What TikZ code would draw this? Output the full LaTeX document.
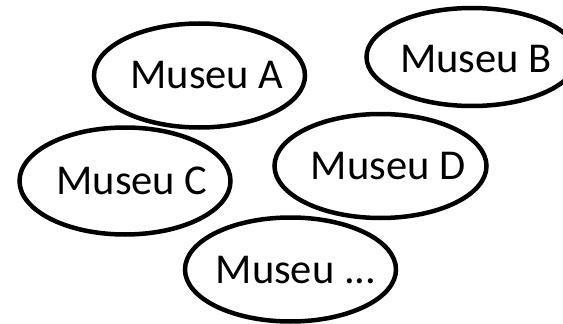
\documentclass[tikz,border=0pt]{standalone}
\usepackage{fontspec}
\setmainfont{Carlito}
\usetikzlibrary{shapes.geometric}
\begin{document}
\begin{tikzpicture}[x=1pt,y=-1pt,
  museum/.style={ellipse, draw=black, line width=4.5pt, inner sep=0pt,
    minimum width=211pt, minimum height=104pt},
  mlabel/.style={font=\fontsize{42.5pt}{50pt}\selectfont, text=black, inner sep=0pt}]
\useasboundingbox (0,0) rectangle (563,324);
\node[museum, label={[mlabel, xshift=7.5pt]center:Museu A}] (a) at (199.5,75.5) {};
\node[museum, minimum height=98pt, label={[mlabel, xshift=4pt, yshift=-2pt]center:Museu B}] (b) at (472,57) {};
\node[museum, minimum height=107pt, label={[mlabel, xshift=7pt]center:Museu C}] (c) at (125,181) {};
\node[museum, minimum width=212pt, label={[mlabel, xshift=7.5pt]center:Museu D}] (d) at (380.5,166) {};
\node[museum, label={[mlabel, xshift=5.5pt, yshift=-1pt]center:Museu ...}] (e) at (290.5,269.5) {};
\end{tikzpicture}
\end{document}
